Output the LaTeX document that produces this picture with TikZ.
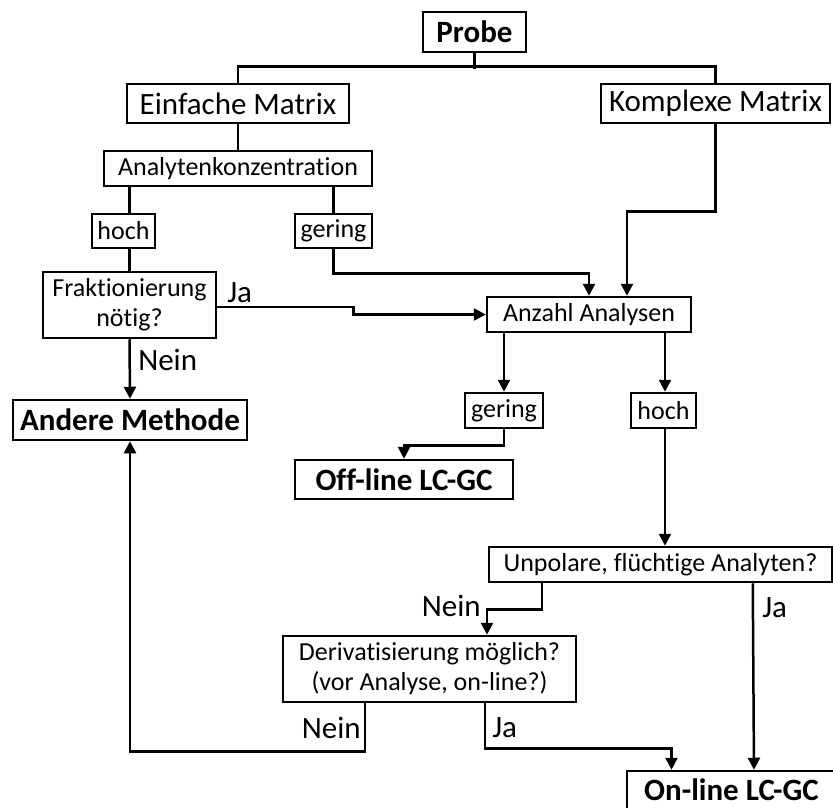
\documentclass[tikz,border=0pt]{standalone}
\usepackage{fontspec}
\setmainfont[Ligatures=NoCommon]{Carlito}
\usetikzlibrary{arrows.meta, calc}

\begin{document}
\begin{tikzpicture}[x=1pt, y=-1pt, line width=2.5pt,
    box/.style={draw, fill=white, inner sep=0pt, align=center, font=\fontsize{26}{30}\selectfont},
    bigbox/.style={box, font=\fontsize{31}{36}\selectfont},
    endbox/.style={box, font=\fontsize{31}{36}\selectfont\bfseries},
    lbl/.style={inner sep=0pt, font=\fontsize{31}{36}\selectfont},
    arr/.style={-{Triangle[width=12pt, length=12pt]}}]
    \useasboundingbox (0,0) rectangle (833,808);

    \node[endbox, minimum width=103, minimum height=40] (probe) at (474.5,32) {Probe};
    \node[bigbox, minimum width=222, minimum height=39] (einfach) at (238,103.5) {Einfache Matrix};
    \node[bigbox, minimum width=229, minimum height=39] (komplex) at (715.5,103.5) {Komplexe Matrix};
    \node[box, minimum width=268, minimum height=35] (konz) at (238,168.5) {Analytenkonzentration};
    \node[box, minimum width=63, minimum height=34] (hochA) at (123.5,231) {hoch};
    \node[box, minimum width=77, minimum height=34] (geringA) at (333.5,231) {gering};
    \node[box, minimum width=173, minimum height=66] (frakt) at (129.5,305) {Fraktionierung\\nötig?};
    \node[endbox, minimum width=234, minimum height=40] (andere) at (130,420) {Andere Methode};
    \node[box, minimum width=204, minimum height=35] (anzahl) at (589,314.5) {Anzahl Analysen};
    \node[box, minimum width=78, minimum height=35] (geringB) at (504,410.5) {gering};
    \node[box, minimum width=65, minimum height=35] (hochB) at (663.5,410.5) {hoch};
    \node[endbox, minimum width=218, minimum height=39] (offline) at (404,479.5) {Off-line LC-GC};
    \node[box, minimum width=343, minimum height=35] (unpolar) at (660.5,564.5) {Unpolare, flüchtige Analyten?};
    \node[box, minimum width=293, minimum height=66] (deriv) at (429.5,669) {Derivatisierung möglich?\\(vor Analyse, on-line?)};
    \node[endbox, minimum width=209, minimum height=38] (online) at (731.5,790) {On-line LC-GC};

    % Probe
    \draw (probe.south) -- ++(0,16);
    \draw (einfach.north) -- ++(0,-16) -| (komplex.north);
    \draw (einfach.south) -- (konz.north);

    % Einfache Matrix
    \draw (konz.south -| frakt.north) -- (hochA.north -| frakt.north);
    \draw (hochA.south -| frakt.north) -- (frakt.north);
    \draw (konz.south -| geringA.north) -- (geringA.north);
    \draw[arr] (geringA.south) -- ++(0,24) -| (anzahl.north);
    \draw[arr] (komplex.south) -- ++(0,87) -| ($(anzahl.north)+(38,0)$);
    \draw[arr] ($(frakt.east)+(0,2)$) -- ++(136,0) |- (anzahl.west);
    \draw[arr] (frakt.south) -- (andere.north);
    \node[lbl, anchor=west] (ja1) at (226,293) {Ja};
    \node[lbl, anchor=west] (nein1) at (137,360) {Nein};

    % Anzahl Analysen
    \draw[arr] (anzahl.south -| geringB.north) -- (geringB.north);
    \draw[arr] ($(anzahl.south)+(76,0)$) -- ($(hochB.north)+(1.5,0)$);
    \draw[arr] (geringB.south) -- ++(0,16) -| (offline.north);
    \draw[arr] ($(hochB.south)+(1.5,0)$) -- ($(unpolar.north)+(4.5,0)$);

    % Unpolare Analyten
    \draw[arr] ($(unpolar.south west)+(54,0)$) -- ++(0,26) -| ($(deriv.north)+(57.5,0)$);
    \draw[arr] ($(unpolar.south west)+(265,0)$) -- ($(online.north)+(22.5,0)$);
    \node[lbl, anchor=east] (nein2) at (482,606) {Nein};
    \node[lbl, anchor=west] (ja2) at (761,608) {Ja};

    % Derivatisierung
    \draw[arr] ($(deriv.south west)+(83,0)$) -- ++(0,48) -| (andere.south);
    \draw[arr] ($(deriv.south west)+(203,0)$) -- ++(0,45) -| ($(online.north)+(-60,0)$);
    \node[lbl, anchor=east] (nein3) at (362,728) {Nein};
    \node[lbl, anchor=west] (ja3) at (491,728) {Ja};
\end{tikzpicture}
\end{document}
